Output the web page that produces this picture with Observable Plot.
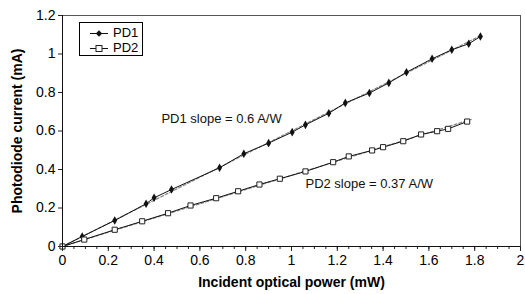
<!DOCTYPE html>
<html>
<head>
<meta charset="utf-8">
<script src="https://cdn.jsdelivr.net/npm/d3@7"></script>
<script src="https://cdn.jsdelivr.net/npm/@observablehq/plot@0.6"></script>
<style>
  html, body { margin: 0; padding: 0; background: #fff; }
  #wrap { position: relative; width: 525px; height: 294px; font-family: "Liberation Sans", Arial, sans-serif; }
  #wrap svg [aria-label="x-axis label"] text, #wrap svg [aria-label="y-axis label"] text { font-weight: bold; }
  #legend { position: absolute; left: 79px; top: 22px; width: 64px; height: 34px; border: 1px solid #000; background: #fff; box-sizing: border-box; font-size: 13px; }
  #legend .row { position: absolute; left: 0; height: 15px; line-height: 15px; white-space: nowrap; }
  #legend svg { vertical-align: middle; }
  #legend span { position: absolute; left: 33px; top: 0; }
</style>
</head>
<body>
<div id="wrap"></div>
<script>
// Data
const pd1X = [0, 0.086, 0.228, 0.365, 0.400, 0.476, 0.686, 0.792, 0.900, 1.003, 1.061, 1.163, 1.235, 1.340, 1.425, 1.502, 1.614, 1.700, 1.774, 1.825];
const pd1Y = [0, 0.052, 0.135, 0.222, 0.253, 0.296, 0.409, 0.482, 0.537, 0.594, 0.632, 0.692, 0.746, 0.797, 0.850, 0.905, 0.975, 1.022, 1.053, 1.091];
const pd2X = [0, 0.095, 0.228, 0.348, 0.461, 0.559, 0.671, 0.767, 0.860, 0.949, 1.061, 1.182, 1.250, 1.352, 1.400, 1.488, 1.566, 1.636, 1.684, 1.767];
const pd2Y = [0, 0.036, 0.087, 0.131, 0.173, 0.213, 0.251, 0.287, 0.322, 0.352, 0.390, 0.438, 0.468, 0.499, 0.516, 0.547, 0.582, 0.599, 0.611, 0.649];
// Linear fits (slope annotations)
const fit1X = [0, 1.83];
const fit1Y = [0, 1.098];   // 0.6 A/W
const fit2X = [0, 1.785];
const fit2Y = [0, 0.660];   // 0.37 A/W
const seriesNames = ["PD1", "PD2"];
const annotations = [
  {x: 0.432, y: 0.665, text: "PD1 slope = 0.6 A/W"},
  {x: 1.061, y: 0.327, text: "PD2 slope = 0.37 A/W"}
];
const xTicks = [0, 0.2, 0.4, 0.6, 0.8, 1, 1.2, 1.4, 1.6, 1.8, 2];
const yTicks = [0, 0.2, 0.4, 0.6, 0.8, 1, 1.2];
const xMinor = d3.range(0, 2.0001, 0.05);
const xLabel = "Incident optical power (mW)";
const yLabel = "Photodiode current (mA)";

const pd1 = pd1X.map((x, i) => ({x, y: pd1Y[i]}));
const pd2 = pd2X.map((x, i) => ({x, y: pd2Y[i]}));
const fit1 = fit1X.map((x, i) => ({x, y: fit1Y[i]}));
const fit2 = fit2X.map((x, i) => ({x, y: fit2Y[i]}));
const fmt = d => String(+d.toFixed(2));

const chart = Plot.plot({
  width: 525, height: 294,
  marginLeft: 62, marginRight: 5, marginTop: 15, marginBottom: 48,
  style: {fontFamily: '"Liberation Sans", Arial, sans-serif', fontSize: "14px", color: "#000", background: "#fff", overflow: "visible"},
  x: {domain: [0, 2]},
  y: {domain: [0, 1.2]},
  marks: [
    Plot.line(fit1, {x: "x", y: "y", stroke: "#888", strokeWidth: 1.2, strokeDasharray: "3,2"}),
    Plot.line(fit2, {x: "x", y: "y", stroke: "#888", strokeWidth: 1.2, strokeDasharray: "3,2"}),
    Plot.line(pd1, {x: "x", y: "y", stroke: "#111", strokeWidth: 1}),
    Plot.line(pd2, {x: "x", y: "y", stroke: "#111", strokeWidth: 1}),
    Plot.dot(pd1, {x: "x", y: "y", symbol: "diamond", r: 2.6, fill: "#111", stroke: "none"}),
    Plot.dot(pd2, {x: "x", y: "y", symbol: "square", r: 2.9, fill: "#fff", stroke: "#222", strokeWidth: 1}),
    Plot.text(annotations, {x: "x", y: "y", text: "text", textAnchor: "start", fontSize: 13, fill: "#111"}),
    Plot.frame({stroke: "#555"}),
    Plot.axisX(xMinor, {tickSize: 3, tickFormat: () => "", label: null, stroke: "#222"}),
    Plot.axisX(xTicks, {tickSize: 5, tickPadding: 4, tickFormat: fmt, fontSize: 14, stroke: "#222",
      label: xLabel, labelAnchor: "center", labelArrow: "none", labelOffset: 40}),
    Plot.axisY(yTicks, {tickSize: 4, tickPadding: 3, tickFormat: fmt, fontSize: 14, stroke: "#222",
      label: yLabel, labelAnchor: "center", labelArrow: "none", labelOffset: 50}),
    Plot.ruleY([0], {stroke: "#111"}),
    Plot.ruleX([0], {stroke: "#111"})
  ]
});

const wrap = document.getElementById("wrap");
wrap.appendChild(chart);

// Legend (line + marker samples)
const legend = document.createElement("div");
legend.id = "legend";
const samples = [
  `<svg width="30" height="15"><line x1="10" x2="28" y1="7.5" y2="7.5" stroke="#111"/><path d="M19,4.3 L22.2,7.5 L19,10.7 L15.8,7.5 Z" fill="#111"/></svg>`,
  `<svg width="30" height="15"><line x1="10" x2="28" y1="7.5" y2="7.5" stroke="#111"/><rect x="16" y="4.5" width="6" height="6" fill="#fff" stroke="#222"/></svg>`
];
seriesNames.forEach((name, i) => {
  const row = document.createElement("div");
  row.className = "row";
  row.style.top = (2 + i * 15) + "px";
  row.innerHTML = samples[i] + `<span>${name}</span>`;
  legend.appendChild(row);
});
wrap.appendChild(legend);
</script>
</body>
</html>
